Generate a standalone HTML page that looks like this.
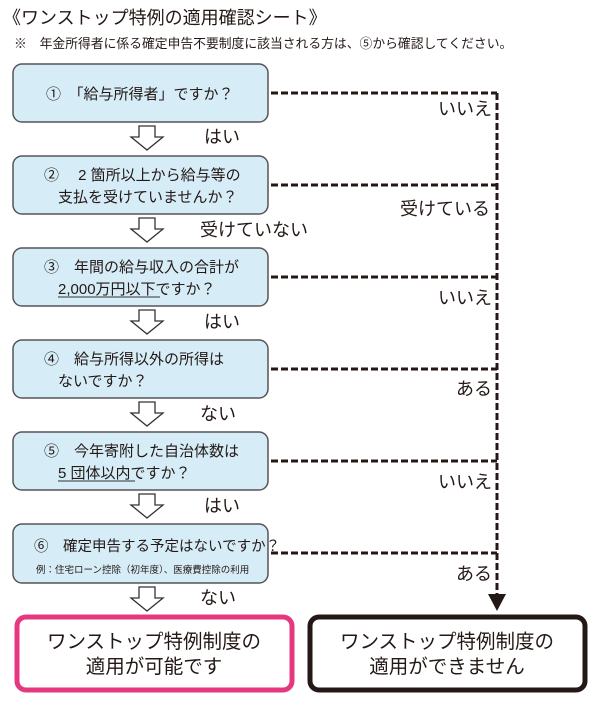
<!DOCTYPE html>
<html><head><meta charset="utf-8"><style>
html,body{margin:0;padding:0;background:#fff;}
svg{display:block;}
text{font-family:"Liberation Sans","Noto Sans CJK JP",sans-serif;fill:#231815;}
</style></head><body>
<svg width="600" height="708" viewBox="0 0 600 708" xmlns="http://www.w3.org/2000/svg">
<text x="3" y="24" font-size="18">《ワンストップ特例の適用確認シート》</text>
<text x="14" y="48" font-size="12.8">※　年金所得者に係る確定申告不要制度に該当される方は、⑤から確認してください。</text>
<g fill="#d6edf8" stroke="#555" stroke-width="1.5">
<rect x="13" y="64" width="255" height="58" rx="9"/>
<rect x="13" y="156" width="255" height="58" rx="9"/>
<rect x="13" y="248" width="255" height="58" rx="9"/>
<rect x="13" y="340" width="255" height="58" rx="9"/>
<rect x="13" y="432" width="255" height="58" rx="9"/>
<rect x="13" y="524" width="255" height="59" rx="9"/>
</g>
<g font-size="15">
<text x="46" y="99">①　「給与所得者」ですか？</text>
<text x="44" y="180">②　 2 箇所以上から給与等の</text>
<text x="58" y="202">支払を受けていませんか？</text>
<text x="44" y="272">③　年間の給与収入の合計が</text>
<text x="58" y="294">2,000万円以下ですか？</text>
<text x="44" y="364">④　給与所得以外の所得は</text>
<text x="58" y="386">ないですか？</text>
<text x="44" y="456">⑤　今年寄附した自治体数は</text>
<text x="58" y="478">5 団体以内ですか？</text>
<text x="34" y="551" font-size="14.5">⑥　確定申告する予定はないですか？</text>
</g>
<text x="36" y="573" font-size="9.5">例：住宅ローン控除（初年度）、医療費控除の利用</text>
<g stroke="#333" stroke-width="1"><line x1="58" y1="297" x2="160" y2="297"/><line x1="58" y1="481" x2="135" y2="481"/></g>
<g stroke="#231815" stroke-width="3" stroke-dasharray="7,3" fill="none">
<line x1="271" y1="93" x2="497" y2="93"/>
<line x1="271" y1="185" x2="497" y2="185"/>
<line x1="271" y1="277" x2="497" y2="277"/>
<line x1="271" y1="369" x2="497" y2="369"/>
<line x1="271" y1="461" x2="497" y2="461"/>
<line x1="271" y1="553" x2="497" y2="553"/>
<line x1="497" y1="93" x2="497" y2="596"/>
</g>
<polygon points="488,594 506,594 497,611" fill="#231815"/>
<g font-size="18">
<text x="438" y="115">いいえ</text>
<text x="400" y="215">受けている</text>
<text x="438" y="304">いいえ</text>
<text x="456" y="395">ある</text>
<text x="438" y="488">いいえ</text>
<text x="456" y="580">ある</text>
<text x="204" y="143">はい</text>
<text x="200" y="236">受けていない</text>
<text x="204" y="328">はい</text>
<text x="200" y="420">ない</text>
<text x="204" y="512">はい</text>
<text x="200" y="604">ない</text>
</g>
<g fill="#fff" stroke="#333" stroke-width="1.3">
<polygon points="139,126 155,126 155,137 163,137 147,150 131,137 139,137"/>
<polygon points="139,218 155,218 155,229 163,229 147,242 131,229 139,229"/>
<polygon points="139,310 155,310 155,321 163,321 147,334 131,321 139,321"/>
<polygon points="139,402 155,402 155,413 163,413 147,426 131,413 139,413"/>
<polygon points="139,494 155,494 155,505 163,505 147,518 131,505 139,505"/>
<polygon points="139,587 155,587 155,598 163,598 147,611 131,598 139,598"/>
</g>
<rect x="17" y="617" width="275" height="73" rx="9" fill="#fff" stroke="#e5387f" stroke-width="5"/>
<rect x="310" y="617" width="275" height="73" rx="9" fill="#fff" stroke="#231815" stroke-width="5"/>
<g font-size="19.5" text-anchor="middle">
<text x="154" y="648">ワンストップ特例制度の</text>
<text x="154" y="673">適用が可能です</text>
<text x="447" y="648">ワンストップ特例制度の</text>
<text x="447" y="673">適用ができません</text>
</g>
</svg>
</body></html>
